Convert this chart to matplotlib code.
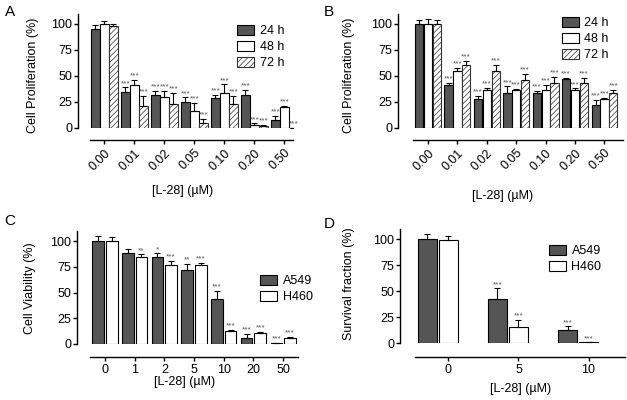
import matplotlib

matplotlib.use("Agg")
import matplotlib.pyplot as plt
import numpy as np

plt.rcParams["font.family"] = ["Liberation Sans", "DejaVu Sans"]
plt.rcParams["hatch.linewidth"] = 0.5

W, H = 627, 400

# panel A / B: proliferation at 24, 48, 72 h
conc_ab = ["0.00", "0.01", "0.02", "0.05", "0.10", "0.20", "0.50"]
times = ["24 h", "48 h", "72 h"]

a_24 = [95, 35, 32, 25, 28.5, 31.5, 7.5]
a_24_err = [4, 4, 4, 4.5, 3, 5, 4]
a_48 = [100, 41, 30, 16.5, 34, 3, 20]
a_48_err = [2.5, 5.5, 6, 8, 8, 1.5, 1]
a_72 = [98, 21, 23, 4.5, 23, 2, 0]
a_72_err = [2, 10, 11, 4, 8, 1, 0]

b_24 = [100, 41, 28, 34, 33.5, 47, 22]
b_24_err = [3.5, 2.5, 3, 6, 2.5, 1.5, 5]
b_48 = [100, 55, 36.5, 36.5, 36.5, 37, 28]
b_48_err = [5, 2.5, 2, 1, 5, 1, 1]
b_72 = [100, 61, 55, 46, 43, 43, 34]
b_72_err = [4, 3.5, 6, 6, 6, 5.5, 3]

stars_ab = ["", "***", "***", "***", "***", "***", "***"]

# panel C: viability
conc_c = ["0", "1", "2", "5", "10", "20", "50"]
cells = ["A549", "H460"]
c_a549 = [100, 88, 84, 72, 43.5, 6, 1]
c_a549_err = [4.5, 4.5, 4, 6, 8, 4, 0]
c_h460 = [100, 84, 77, 76.5, 12.5, 10.5, 5.5]
c_h460_err = [4, 3, 3.5, 2, 1, 1, 1.5]
c_a549_stars = ["", "", "*", "**", "***", "***", "***"]
c_h460_stars = ["", "**", "***", "***", "***", "***", "***"]

# panel D: survival fraction
conc_d = ["0", "5", "10"]
d_a549 = [100, 42.5, 12.5]
d_a549_err = [4.5, 10, 3.5]
d_h460 = [99, 15, 0.5]
d_h460_err = [3.5, 7, 0]
d_stars = ["", "***", "***"]

DARK = "#555555"
STYLES = [
    dict(color=DARK, edgecolor="black"),
    dict(color="white", edgecolor="black"),
    dict(color="white", edgecolor="#333333", hatch="//////"),
]


def px_axes(fig, left, right, bottom, top):
    return fig.add_axes([left / W, 1 - bottom / H, (right - left) / W, (bottom - top) / H])


def style_axes(ax, xlim, line_bounds, labels, rotate, drop_px):
    ax.set_xlim(*xlim)
    ax.set_ylim(0, 110)
    for s in ("top", "right"):
        ax.spines[s].set_visible(False)
    ax.spines["left"].set_linewidth(1.0)
    ax.spines["bottom"].set_linewidth(1.0)
    # outward is in points; convert from pixels at 100 dpi
    ax.spines["bottom"].set_position(("outward", drop_px * 0.72))
    ax.spines["bottom"].set_bounds(*line_bounds)
    ax.set_yticks([0, 25, 50, 75, 100])
    ax.tick_params(axis="y", length=3, width=1.0, labelsize=9, pad=1)
    ax.tick_params(axis="x", length=3, width=1.0, labelsize=9, pad=2)
    ax.set_xticks(np.arange(len(labels)))
    if rotate:
        ax.set_xticklabels(labels, rotation=45, ha="right", rotation_mode="anchor")
    else:
        ax.set_xticklabels(labels)


def bars(ax, x, vals, errs, stars, width, style, label):
    ax.bar(x, vals, width, linewidth=0.8, label=label, **style)
    ax.errorbar(x, vals, yerr=[np.zeros(len(errs)), errs], fmt="none",
                ecolor="black", elinewidth=0.8, capsize=2.2, capthick=0.8)
    for xi, v, e, s in zip(x, vals, errs, stars):
        if s:
            ax.annotate(s, (xi, v + e), xytext=(0, 0.3), textcoords="offset points",
                        ha="center", va="bottom", fontsize=6, color="#555555")


def legend(ax, fig, x, y):
    ax.legend(loc="upper left", bbox_to_anchor=(x / W, 1 - y / H),
              bbox_transform=fig.transFigure, frameon=False, fontsize=9,
              handlelength=1.35, handleheight=0.85, handletextpad=0.45,
              labelspacing=0.3, borderpad=0, borderaxespad=0)


fig = plt.figure(figsize=(W / 100, H / 100), dpi=100)

# A
ax = px_axes(fig, 78, 293, 128, 13.6)
x = np.arange(len(conc_ab))
for off, vals, errs, st, lab in zip([-0.3, 0, 0.3], [a_24, a_48, a_72],
                                    [a_24_err, a_48_err, a_72_err], STYLES, times):
    bars(ax, x + off, vals, errs, stars_ab, 0.28, st, lab)
style_axes(ax, (-0.877, 6.29), (-0.48, 6.29), conc_ab, True, 12)
legend(ax, fig, 237, 25)

# B
ax = px_axes(fig, 398, 623, 128, 13.6)
for off, vals, errs, st, lab in zip([-0.3, 0, 0.3], [b_24, b_48, b_72],
                                    [b_24_err, b_48_err, b_72_err], STYLES, times):
    bars(ax, x + off, vals, errs, stars_ab, 0.28, st, lab)
style_axes(ax, (-1.02, 6.63), (-0.5, 6.63), conc_ab, True, 12)
legend(ax, fig, 562, 17)

# C
ax = px_axes(fig, 77, 298, 344, 230.7)
x = np.arange(len(conc_c))
bars(ax, x - 0.23, c_a549, c_a549_err, c_a549_stars, 0.39, STYLES[0], cells[0])
bars(ax, x + 0.23, c_h460, c_h460_err, c_h460_stars, 0.39, STYLES[1], cells[1])
style_axes(ax, (-0.94, 6.5), (-0.5, 6.5), conc_c, False, 13)
legend(ax, fig, 260, 275)

# D
ax = px_axes(fig, 400, 625, 343, 228.6)
x = np.arange(len(conc_d))
bars(ax, x - 0.3, d_a549, d_a549_err, d_stars, 0.27, STYLES[0], cells[0])
bars(ax, x, d_h460, d_h460_err, d_stars, 0.27, STYLES[1], cells[1])
style_axes(ax, (-0.69, 2.52), (-0.48, 2.52), conc_d, False, 14)
legend(ax, fig, 549, 245)


# axis titles and panel letters
def ftext(px, py, s, **kw):
    fig.text(px / W, 1 - py / H, s, ha="center", va="center", **kw)


ftext(33, 75, "Cell Proliferation (%)", rotation=90, fontsize=9)
ftext(349, 75, "Cell Proliferation (%)", rotation=90, fontsize=9)
ftext(30, 288, "Cell Viability (%)", rotation=90, fontsize=9)
ftext(349, 284, "Survival fraction (%)", rotation=90, fontsize=9)
ftext(183, 191, "[L-28] (µM)", fontsize=9)
ftext(503, 196, "[L-28] (µM)", fontsize=9)
ftext(185, 382, "[L-28] (µM)", fontsize=9)
ftext(521, 389, "[L-28] (µM)", fontsize=9)
for lx, ly, letter in [(10, 12, "A"), (329, 12, "B"), (10, 221, "C"), (329, 224, "D")]:
    ftext(lx, ly, letter, fontsize=11)

fig.savefig("out.png", dpi=100)
